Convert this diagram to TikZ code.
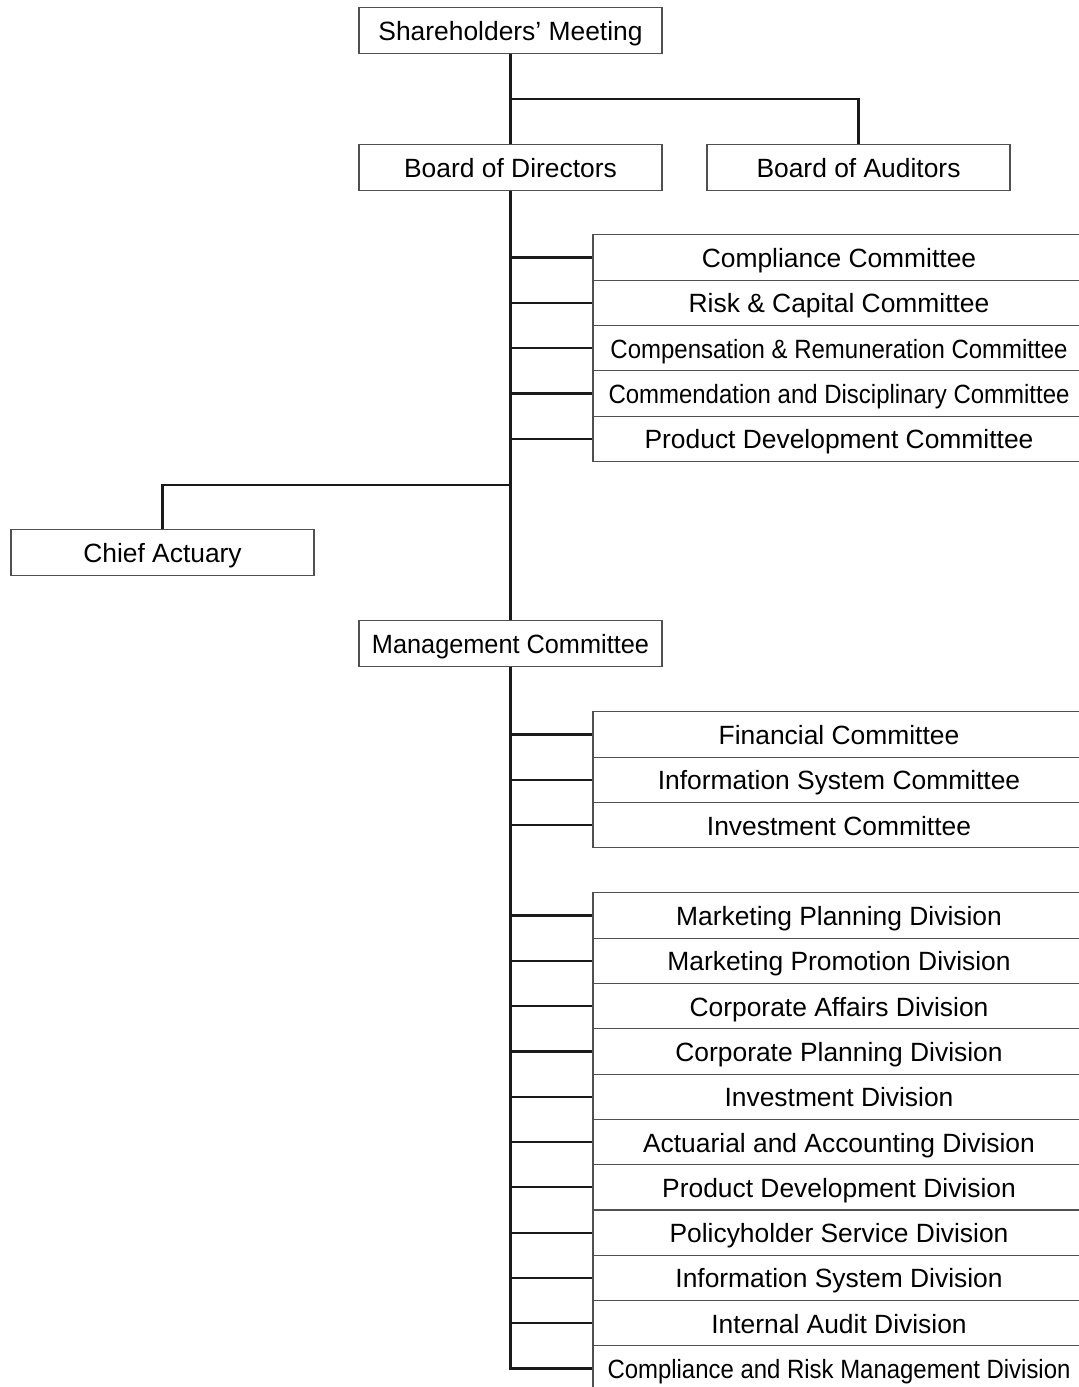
\documentclass[tikz,border=0pt]{standalone}
\usepackage{fontspec}
\setmainfont{Liberation Sans}
\usepackage{graphicx}
\definecolor{boxline}{HTML}{505050}
\definecolor{connline}{HTML}{1A1A1A}
\begin{document}
\begin{tikzpicture}[x=1pt,y=-1pt,
  box/.style={draw=boxline, line width=1.1pt, fill=white,
    minimum width=303pt, minimum height=45.3pt, inner sep=0pt,
    font=\fontsize{26.4}{30}\selectfont, text height=20pt, text depth=0pt},
  wide/.style={box, minimum width=492pt},
  conn/.style={draw=connline, line width=2.2pt}]
\useasboundingbox (0,0) rectangle (1079,1387);
\clip (0,0) rectangle (1079,1387);

% governing bodies
\node[box] (sm)  at (510.5,30.5)  {Shareholders’ Meeting};
\node[box] (bod) at (510.5,167.5) {Board of Directors};
\node[box] (boa) at (858.5,167.5) {Board of Auditors};
\node[box] (ca)  at (162.5,552.5) {Chief Actuary};
\node[box] (mc)  at (510.5,643.5) {\resizebox{277pt}{\height}{Management Committee}};

% board committees
\foreach \t [count=\i] in {
  Compliance Committee,
  Risk \& Capital Committee,
  {\resizebox{457pt}{\height}{Compensation \& Remuneration Committee}},
  {\resizebox{461pt}{\height}{Commendation and Disciplinary Committee}},
  Product Development Committee}
  \node[wide] (c\i) at (839,{257.5+45.3*(\i-1)}) {\t};

% management committees
\foreach \t [count=\i] in {
  Financial Committee,
  Information System Committee,
  Investment Committee}
  \node[wide] (m\i) at (839,{734.5+45.3*(\i-1)}) {\t};

% divisions
\foreach \t [count=\i] in {
  Marketing Planning Division,
  Marketing Promotion Division,
  Corporate Affairs Division,
  Corporate Planning Division,
  Investment Division,
  Actuarial and Accounting Division,
  Product Development Division,
  Policyholder Service Division,
  Information System Division,
  Internal Audit Division,
  {\resizebox{463pt}{\height}{Compliance and Risk Management Division}}}
  \node[wide] (d\i) at (839,{915.5+45.3*(\i-1)}) {\t};

% junctions on the main trunk
\coordinate (j1) at (510.5,99);
\coordinate (j2) at (510.5,485);

% trunk and branches
\draw[conn] (sm.south) -- (bod.north);
\draw[conn] (j1) -| (boa.north);
\draw[conn] (bod.south) -- (mc.north);
\draw[conn] (j2) -| (ca.north);
\draw[conn] (mc.south) |- (d11.west);
\foreach \i in {1,...,5}
  \draw[conn] (bod.south |- c\i.west) -- (c\i.west);
\foreach \i in {1,...,3}
  \draw[conn] (mc.south |- m\i.west) -- (m\i.west);
\foreach \i in {1,...,10}
  \draw[conn] (mc.south |- d\i.west) -- (d\i.west);
\end{tikzpicture}
\end{document}
